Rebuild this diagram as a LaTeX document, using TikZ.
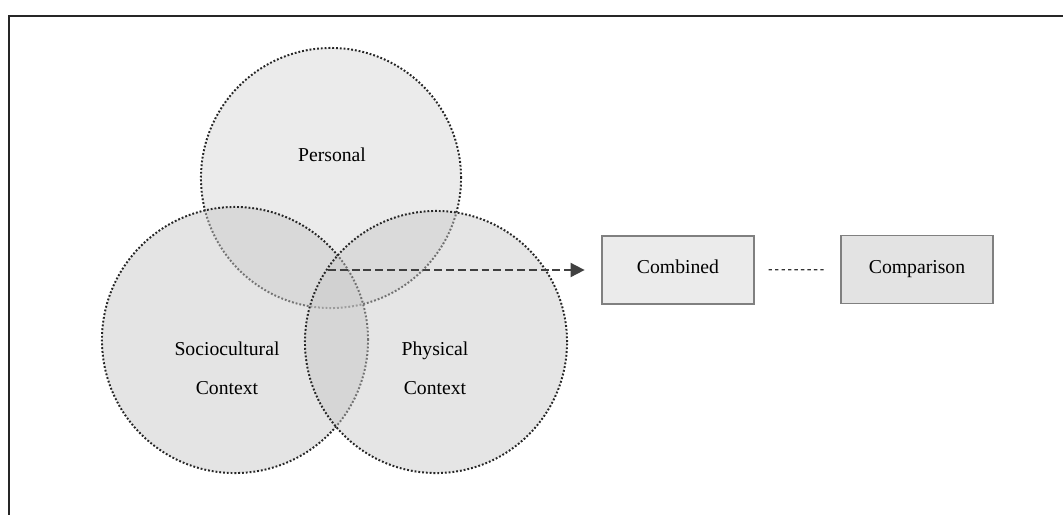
\documentclass[tikz,border=0pt]{standalone}
\usepackage{fontspec}
\setmainfont{Liberation Serif}
\usetikzlibrary{arrows.meta}

\begin{document}
\begin{tikzpicture}[x=0.025cm,y=-0.025cm,
		venn/.style={circle,draw=black!85,line width=1.4pt,dash pattern=on 1.3pt off 1.4pt,fill=black!22},
		box/.style={draw=black!50,line width=0.8pt,minimum width=3.8cm,minimum height=1.7cm,
			text height=0.72em,text depth=0.22em,font=\fontsize{14}{17}\selectfont},
		lbl/.style={align=center,font=\fontsize{14}{28}\selectfont}]
				\useasboundingbox (0,0) rectangle (1063,515);
				% frame (runs off at the right and the bottom)
				\draw[line width=1.2pt,black!85] (1063,16) -- (9,16) -- (9,515);
				
				% circles, the later ones on top
				\foreach \n/\x/\y/\r/\o in
				{personal/331/178/130/0.36, socio/235/340/133/0.49, physical/436/342/131/0.47}{
					\pgfmathsetmacro\d{0.05*\r}
					\node[venn,fill opacity=\o,minimum size=\d cm] (\n) at (\x,\y) {};
				}
				
				% labels
				\node[lbl] (personalLbl) at (332,155) {Personal};
				\node[lbl] (socioLbl) at (227,368) {Sociocultural\\Context};
				\node[lbl] (physicalLbl) at (435,368) {Physical\\Context};
				
				% boxes on the right
				\node[box,fill=black!8] (combined) at (678,270) {Combined};
				\node[box,fill=black!11] (comparison) at (917,269.5) {Comparison};
				
				\coordinate (core) at (328,270);
				\draw[black!75,line width=1.3pt,dash pattern=on 5.6pt off 2.8pt,
					-{Triangle[length=10pt,width=10pt]},shorten >=0.42cm] (core) -- (combined.west);
				\draw[black!80,line width=0.9pt,dash pattern=on 2.4pt off 2.2pt,
					shorten <=0.35cm,shorten >=0.4cm] (combined) -- (comparison);
			\end{tikzpicture}
\end{document}
